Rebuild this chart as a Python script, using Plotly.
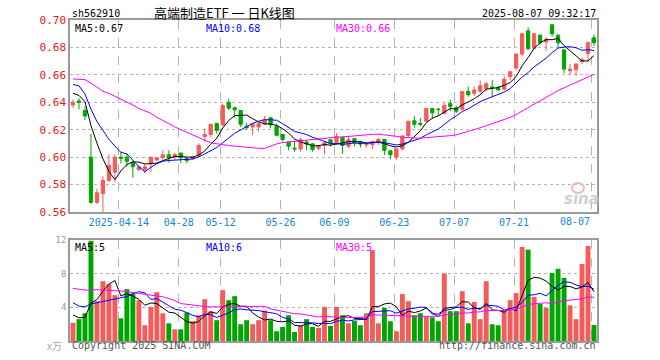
import numpy as np
import pandas as pd
import plotly.graph_objects as go

# ---------------- data ----------------
holidays = ["2025-04-04", "2025-05-01", "2025-05-02", "2025-05-05", "2025-06-02"]
dates = [d.strftime("%Y-%m-%d") for d in pd.bdate_range("2025-04-01", "2025-08-07")
         if d.strftime("%Y-%m-%d") not in holidays]

open_ = [0.638, 0.641, 0.634, 0.600, 0.567, 0.5735, 0.583, 0.589, 0.600, 0.600,
         0.596, 0.591, 0.591, 0.595, 0.598, 0.5997, 0.6017, 0.600, 0.603, 0.599,
         0.599, 0.601, 0.615, 0.6165, 0.6245, 0.6235, 0.640, 0.636, 0.634, 0.6225,
         0.622, 0.622, 0.624, 0.6287, 0.6225, 0.6165, 0.611, 0.6065, 0.606, 0.611,
         0.6097, 0.6065, 0.6085, 0.6127, 0.6105, 0.6145, 0.608, 0.6135, 0.611, 0.609,
         0.609, 0.611, 0.613, 0.6047, 0.600, 0.606, 0.6155, 0.6265, 0.6245, 0.6262,
         0.6355, 0.635, 0.632, 0.639, 0.636, 0.635, 0.648, 0.6465, 0.648, 0.650,
         0.6512, 0.6507, 0.6495, 0.6588, 0.665, 0.6752, 0.692, 0.6794, 0.689, 0.684,
         0.6965, 0.6887, 0.6782, 0.663, 0.6637, 0.6696, 0.6755, 0.687]
high = [0.642, 0.643, 0.637, 0.617, 0.577, 0.586, 0.602, 0.602, 0.604, 0.602,
        0.5975, 0.594, 0.595, 0.600, 0.600, 0.605, 0.605, 0.603, 0.603, 0.5995,
        0.601, 0.610, 0.621, 0.624, 0.625, 0.639, 0.6426, 0.637, 0.634, 0.625,
        0.625, 0.626, 0.630, 0.629, 0.6245, 0.6165, 0.611, 0.612, 0.614, 0.6122,
        0.610, 0.609, 0.6115, 0.6127, 0.6176, 0.6145, 0.6157, 0.6135, 0.612, 0.611,
        0.612, 0.614, 0.613, 0.6047, 0.606, 0.6155, 0.6262, 0.630, 0.6287, 0.636,
        0.6355, 0.6355, 0.640, 0.642, 0.6375, 0.648, 0.6515, 0.6515, 0.656, 0.655,
        0.6563, 0.652, 0.659, 0.663, 0.6755, 0.690, 0.6947, 0.690, 0.689, 0.6875,
        0.697, 0.690, 0.679, 0.668, 0.668, 0.6728, 0.6843, 0.6894]
low = [0.636, 0.635, 0.627, 0.566, 0.566, 0.560, 0.582, 0.582, 0.5955, 0.593,
       0.585, 0.590, 0.588, 0.589, 0.597, 0.598, 0.596, 0.598, 0.5956, 0.5955,
       0.598, 0.600, 0.611, 0.6147, 0.617, 0.6225, 0.6343, 0.629, 0.622, 0.620,
       0.616, 0.6185, 0.6238, 0.621, 0.615, 0.6115, 0.605, 0.604, 0.604, 0.605,
       0.604, 0.605, 0.6024, 0.6078, 0.6095, 0.6024, 0.6065, 0.6078, 0.607, 0.607,
       0.606, 0.609, 0.6017, 0.5985, 0.598, 0.605, 0.615, 0.6215, 0.6225, 0.626,
       0.628, 0.630, 0.631, 0.6335, 0.632, 0.634, 0.644, 0.6445, 0.6465, 0.648,
       0.644, 0.6485, 0.649, 0.656, 0.6635, 0.6735, 0.678, 0.679, 0.682, 0.6776,
       0.688, 0.680, 0.6613, 0.660, 0.6593, 0.6678, 0.669, 0.681]
close = [0.640, 0.640, 0.630, 0.567, 0.574, 0.583, 0.594, 0.600, 0.599, 0.597,
         0.593, 0.593, 0.593, 0.600, 0.5995, 0.6017, 0.5995, 0.602, 0.5995, 0.5975,
         0.6005, 0.6085, 0.6165, 0.624, 0.6195, 0.6377, 0.6357, 0.6345, 0.624, 0.6215,
         0.6243, 0.6243, 0.6274, 0.6235, 0.616, 0.6128, 0.608, 0.606, 0.6127, 0.6095,
         0.6055, 0.608, 0.6105, 0.610, 0.615, 0.6085, 0.6127, 0.6105, 0.6095, 0.610,
         0.6115, 0.613, 0.605, 0.6017, 0.606, 0.6155, 0.6262, 0.624, 0.624, 0.6355,
         0.6323, 0.6348, 0.6377, 0.637, 0.6335, 0.6478, 0.6455, 0.649, 0.652, 0.6535,
         0.6505, 0.649, 0.6568, 0.6622, 0.6752, 0.690, 0.679, 0.690, 0.6833, 0.686,
         0.690, 0.6833, 0.6642, 0.6642, 0.668, 0.671, 0.6835, 0.6835]
volume = [2.15, 2.59, 3.3, 11.9, 4.73, 7.1, 6.76, 5.45, 2.7, 6.16,
          5.65, 4.85, 1.87, 4.05, 5.8, 3.3, 2.1, 1.39, 1.39, 3.38,
          2.35, 3.06, 4.97, 3.54, 2.47, 6.04, 4.85, 5.33, 1.99, 2.47,
          1.99, 2.47, 3.62, 2.47, 1.16, 1.67, 3.06, 1.07, 1.87, 2.59,
          1.67, 1.55, 4.05, 1.79, 4.05, 3.06, 2.1, 2.38, 1.87, 3.3,
          10.8, 2.1, 3.94, 2.35, 1.16, 5.57, 4.73, 3.06, 3.3, 2.9,
          2.82, 2.35, 8.03, 3.54, 3.54, 5.92, 2.1, 4.65, 2.59, 7.1,
          1.99, 1.87, 3.54, 4.85, 5.69, 11.17, 10.85, 5.25, 4.41, 3.94,
          8.07, 8.58, 7.51, 4.25, 2.59, 9.14, 11.29, 1.91]

# moving-average values at the start of the window (read from the chart,
# they depend on days before the first candle)
ma5_head = [0.6465, 0.645, 0.6405, 0.623]
ma10_head = [0.653, 0.652, 0.646, 0.635, 0.626, 0.619, 0.613, 0.608, 0.6035]
ma30_head = [0.657, 0.657, 0.6565, 0.654, 0.651, 0.648, 0.6465, 0.6445, 0.642, 0.640,
             0.638, 0.6355, 0.634, 0.632, 0.629, 0.627, 0.6245, 0.622, 0.620, 0.618,
             0.616, 0.614, 0.612, 0.6105, 0.6098, 0.609, 0.6085, 0.608, 0.6075]
vma5_head = [3.1, 2.75, 2.8, 4.5]
vma10_head = [4.55, 4.15, 4.05, 4.4, 4.55, 4.7, 4.85, 5.05, 5.2]
vma30_head = [6.25, 6.15, 6.05, 6.05, 6.1, 6.05, 6.0, 5.95, 5.95, 5.9,
              5.75, 5.65, 5.6, 5.5, 5.4, 5.25, 5.05, 4.8, 4.45, 4.35,
              4.25, 4.17, 4.1, 4.05, 4.05, 4.05, 4.1, 4.1, 4.1]

tick_dates = ["2025-04-14", "2025-04-28", "2025-05-12", "2025-05-26", "2025-06-09",
              "2025-06-23", "2025-07-07", "2025-07-21", "2025-08-07"]
tick_labels = ["2025-04-14", "04-28", "05-12", "05-26", "06-09", "06-23", "07-07", "07-21", "08-07"]
price_ticks = [0.56, 0.58, 0.60, 0.62, 0.64, 0.66, 0.68, 0.70]
vol_ticks = [4, 8, 12]

# ---------------- helpers ----------------
def moving_avg(vals, n, head):
    s = pd.Series(vals).rolling(n).mean().tolist()
    return list(head) + s[len(head):]

n = len(dates)
idx = list(range(n))
ma5 = moving_avg(close, 5, ma5_head)
ma10 = moving_avg(close, 10, ma10_head)
ma30 = moving_avg(close, 30, ma30_head)
vma5 = moving_avg(volume, 5, vma5_head)
vma10 = moving_avg(volume, 10, vma10_head)
vma30 = moving_avg(volume, 30, vma30_head)

RED = "#F45B5B"
GREEN = "#00A600"
MONO = "DejaVu Sans Mono"
GRID = "#B4B4B4"
BORDER = "#9A9A9A"

vol_colors = [RED if c >= o else GREEN for o, c in zip(open_, close)]
tick_idx = [dates.index(d) for d in tick_dates]
grid_x = [i - 0.35 for i in tick_idx]

fig = go.Figure()
fig.add_trace(go.Candlestick(
    x=idx, open=open_, high=high, low=low, close=close,
    increasing=dict(line=dict(color=RED, width=1), fillcolor=RED),
    decreasing=dict(line=dict(color=GREEN, width=1), fillcolor=GREEN),
    whiskerwidth=0, xaxis="x", yaxis="y", hoverinfo="skip"))
for vals, col in [(ma5, "#000000"), (ma10, "#0000FF"), (ma30, "#FF00FF")]:
    fig.add_trace(go.Scatter(x=idx, y=vals, mode="lines", line=dict(color=col, width=1),
                             xaxis="x", yaxis="y", hoverinfo="skip"))
fig.add_trace(go.Bar(x=idx, y=volume, marker=dict(color=vol_colors, line=dict(width=0)),
                     xaxis="x2", yaxis="y2", hoverinfo="skip"))
for vals, col in [(vma5, "#000000"), (vma10, "#0000FF"), (vma30, "#FF00FF")]:
    fig.add_trace(go.Scatter(x=idx, y=vals, mode="lines", line=dict(color=col, width=1),
                             xaxis="x2", yaxis="y2", hoverinfo="skip"))

W, H = 660, 360
L, R, T, B = 70, 660 - 597, 20, 360 - 341
PW, PH = W - L - R, H - T - B
def px(x):
    return (x - L) / PW
def py(y):
    return (H - B - y) / PH

price_dom = [py(212), 1]
vol_dom = [0, py(240)]

axis_common = dict(showline=True, mirror=True, linecolor=BORDER, linewidth=1.5,
                   zeroline=False, ticks="", fixedrange=True)
fig.update_layout(
    width=W, height=H, margin=dict(l=L, r=R, t=T, b=B, autoexpand=False),
    paper_bgcolor="white", plot_bgcolor="white", showlegend=False,
    boxgap=0.22, bargap=0.18, hovermode=False,
    xaxis=dict(domain=[0, 1], anchor="y", range=[-0.5, n - 0.5],
               tickmode="array", tickvals=grid_x,
               ticktext=tick_labels[:-1] + [""],
               tickfont=dict(family=MONO, size=10, color="#1A84D4"),
               showgrid=True, gridcolor=GRID, griddash="dash", gridwidth=1,
               rangeslider=dict(visible=False), **axis_common),
    yaxis=dict(domain=price_dom, anchor="x", range=[0.56, 0.70],
               tickmode="array", tickvals=price_ticks,
               ticktext=[f"{v:.2f}" for v in price_ticks],
               tickfont=dict(family=MONO, size=11, color="#E41818"),
               showgrid=True, gridcolor=GRID, griddash="dot", gridwidth=1,
               **axis_common),
    xaxis2=dict(domain=[0, 1], anchor="y2", range=[-0.5, n - 0.5],
                tickmode="array", tickvals=grid_x, showticklabels=False,
                showgrid=True, gridcolor=GRID, griddash="dash", gridwidth=1,
                **axis_common),
    yaxis2=dict(domain=vol_dom, anchor="x2", range=[0, 12],
                tickmode="array", tickvals=vol_ticks,
                ticktext=[str(v) for v in vol_ticks],
                tickfont=dict(family=MONO, size=9, color="#999999"),
                showgrid=True, gridcolor=GRID, griddash="dot", gridwidth=1,
                **axis_common),
)

def ann(text, x, y, anchor="left", color="#000", size=10, family=MONO, **kw):
    fig.add_annotation(text=text, x=px(x), y=py(y), xref="paper", yref="paper",
                       xanchor=anchor, yanchor="middle", showarrow=False,
                       font=dict(family=family, size=size, color=color), **kw)

ann("sh562910", 70, 13)
ann("高端制造ETF 一 日K线图", 224, 12.5, anchor="center", size=13, family="Noto Sans CJK SC")
ann("2025-08-07 09:32:17", 598, 13, anchor="right")
ann("MA5:0.67", 73, 28.5)
ann("MA10:0.68", 204, 28.5, color="#0000FF")
ann("MA30:0.66", 334, 28.5, color="#FF00FF")
ann("MA5:5", 73, 247)
ann("MA10:6", 204, 247, color="#0000FF")
ann("MA30:5", 334, 247, color="#FF00FF")
ann(tick_labels[-1], 592, 221, anchor="right", color="#1A84D4")
ann("x万", 64, 346, anchor="right", color="#AAAAAA", size=10, family="Noto Sans CJK SC")
ann("Copyright 2025 SINA.COM", 70, 346, color="#555555")
ann("http://finance.sina.com.cn", 598, 346, anchor="right", color="#555555")
fig.add_annotation(text="<b><i>sina</i></b>", x=px(581), y=py(199), xref="paper", yref="paper",
                   xanchor="center", yanchor="middle", showarrow=False,
                   font=dict(family="DejaVu Sans", size=15, color="#CFCFCF"))
fig.add_shape(type="circle", xref="paper", yref="paper",
              x0=px(572), x1=px(584), y0=py(193), y1=py(183),
              line=dict(color="#F2B5B5", width=2))

# remove the browser's default 8px body margin so the figure sits at the page origin
fig.write_html("out.html", config={"displayModeBar": False},
               post_script="document.body.style.margin='0';")
